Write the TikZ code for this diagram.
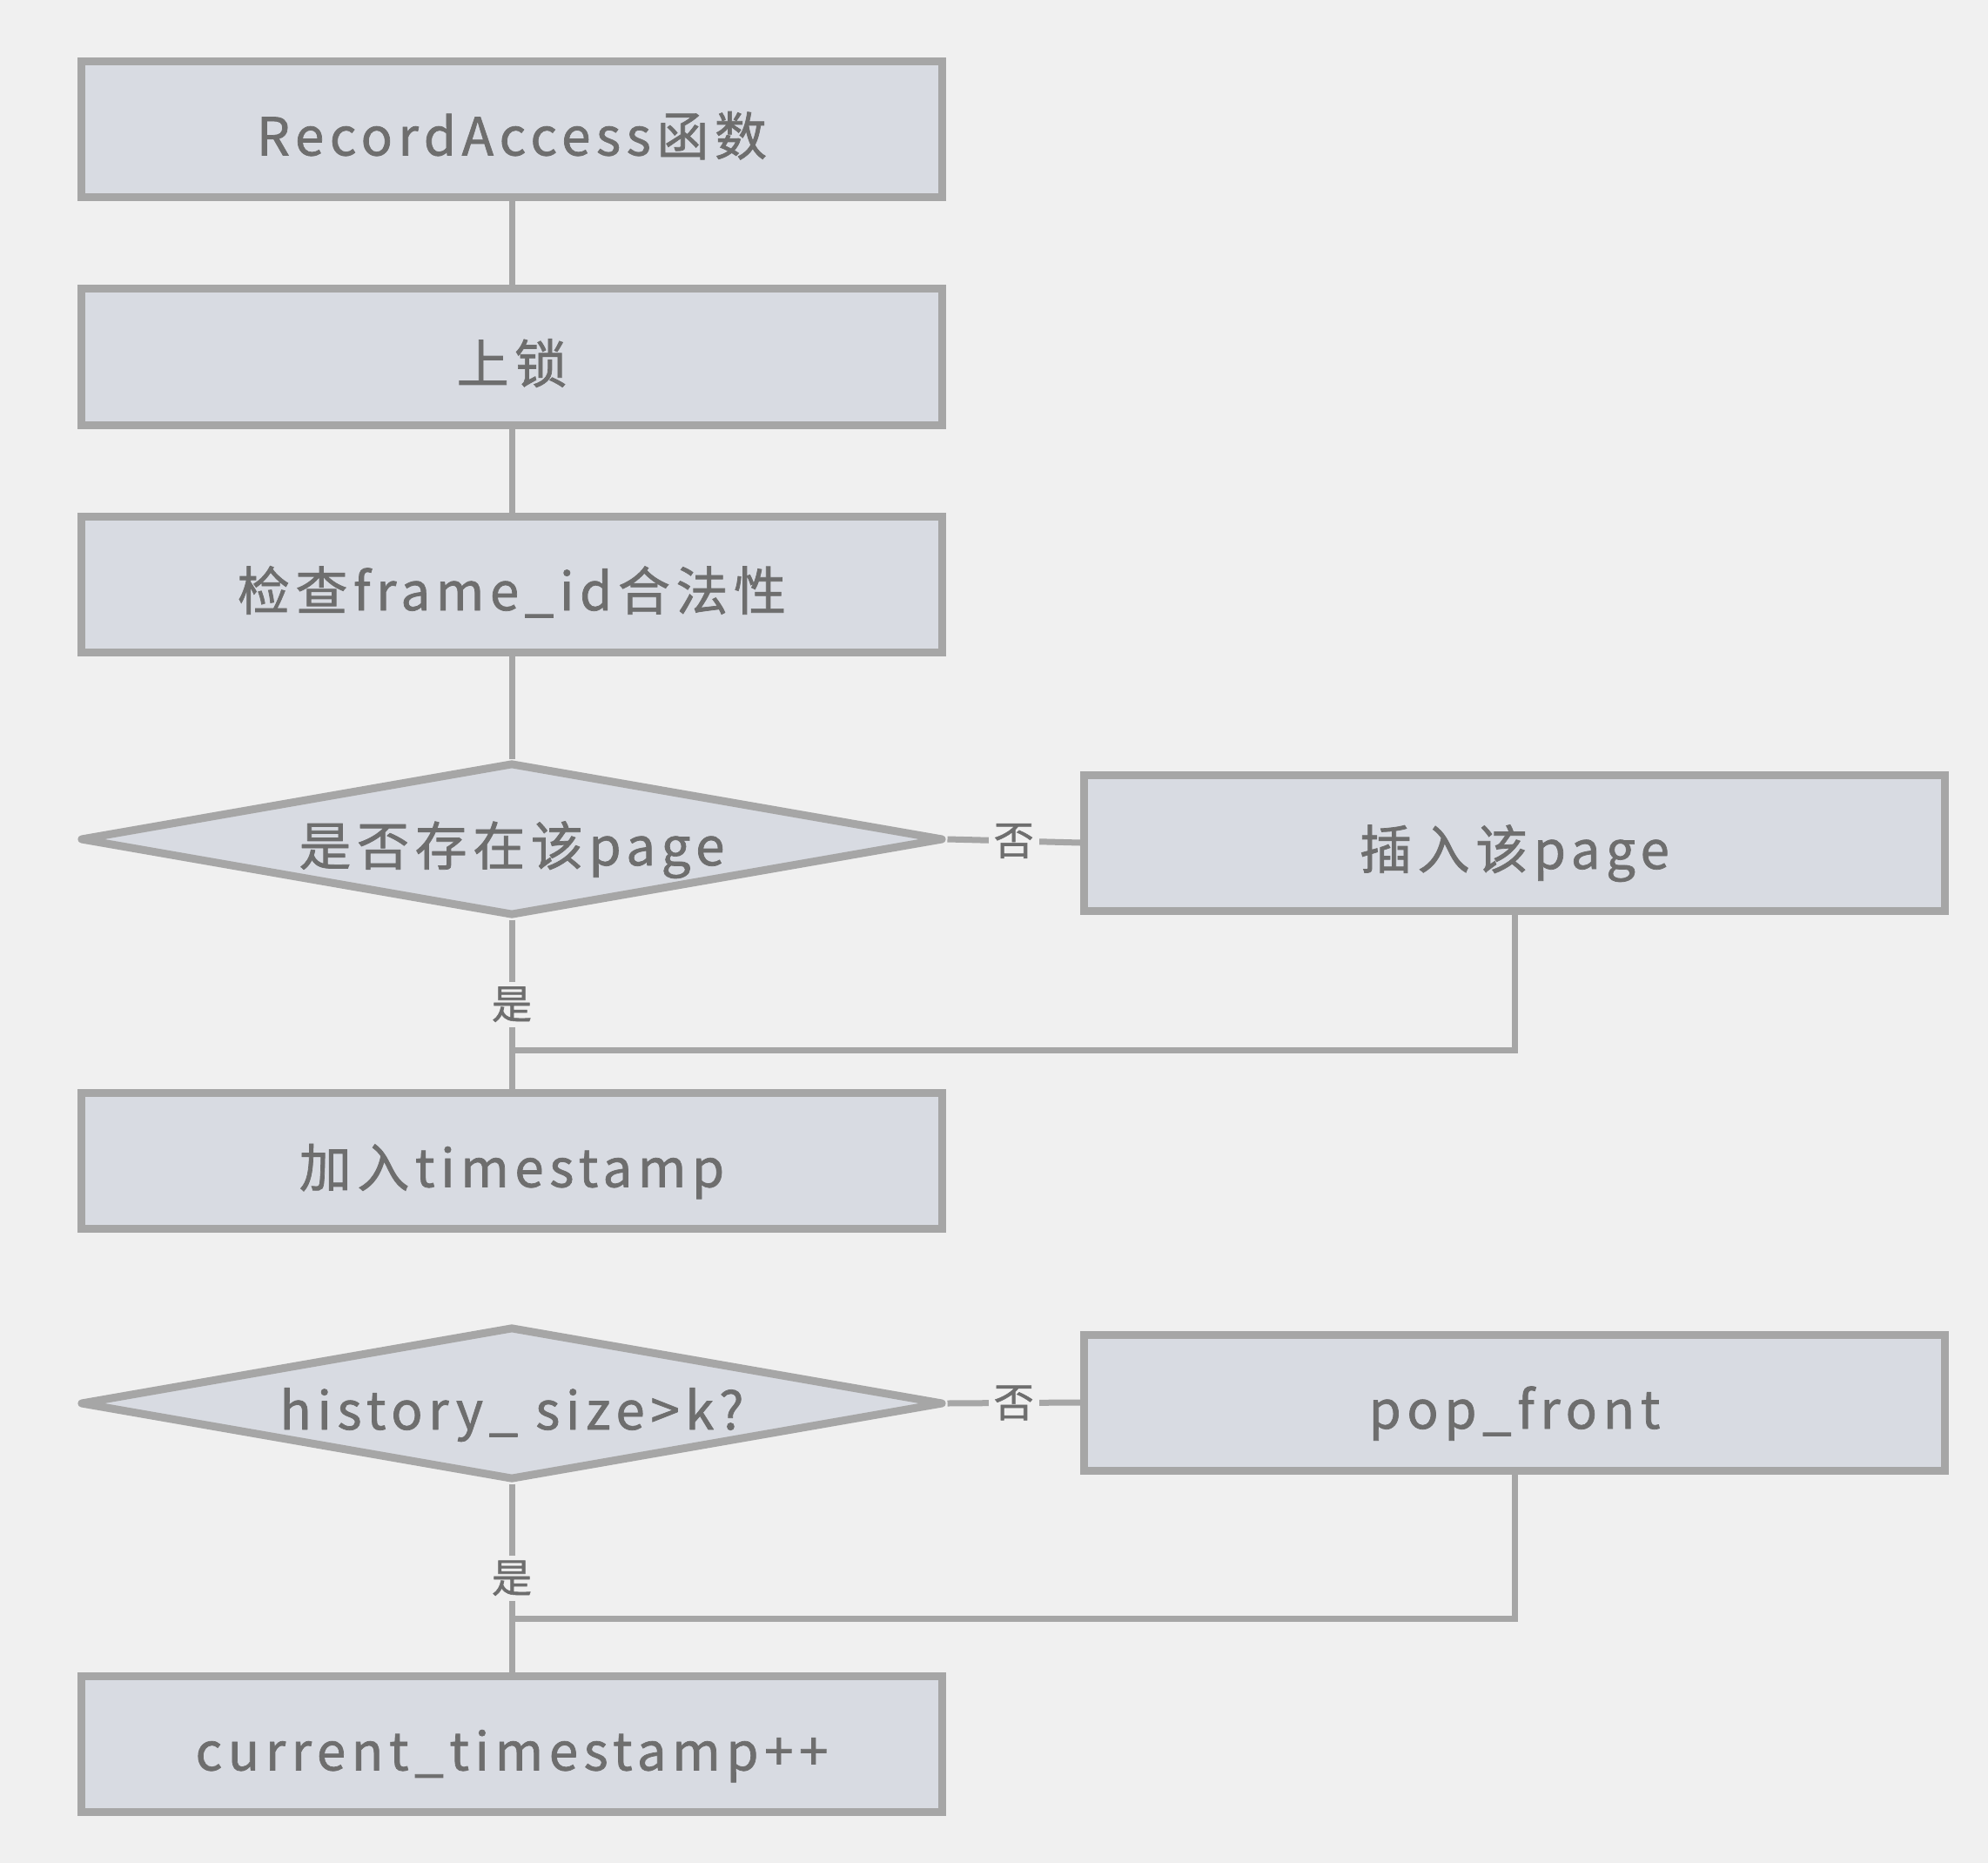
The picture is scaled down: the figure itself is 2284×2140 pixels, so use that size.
\documentclass[tikz,border=0pt]{standalone}
\usepackage{fontspec}
\setmainfont{Noto Sans CJK SC}[FakeBold=1.2]
\usetikzlibrary{shapes.geometric}

\definecolor{bgc}{HTML}{F0F0F0}
\definecolor{boxfill}{HTML}{D8DBE2}
\definecolor{boxline}{HTML}{A6A6A6}
\definecolor{txt}{HTML}{6E6E6E}

\tikzset{
  proc/.style={draw=boxline, fill=boxfill, line width=9pt, rectangle,
    minimum width=989pt, minimum height=156pt, inner sep=0pt,
    text height=66pt, text depth=6pt,
    text=txt, font=\fontsize{60}{66}\selectfont\addfontfeatures{LetterSpace=11}},
  decide/.style={proc, diamond, aspect=5.5, line join=round,
    minimum width=992pt, minimum height=176pt},
  line/.style={draw=boxline, line width=7pt},
  lbl/.style={fill=bgc, text=txt, inner sep=6pt,
    font=\fontsize{46}{50}\selectfont}
}

\begin{document}
\begin{tikzpicture}[x=1pt,y=-1pt]
\fill[bgc] (0,0) rectangle (2284,2140);
\useasboundingbox (0,0) rectangle (2284,2140);

\node[proc] (start) at (588,148.5) {RecordAccess函数};
\node[proc] (lock) at (588,410) {上锁};
\node[proc] (check) at (588,671) {检查frame\_id合法性};
\node[decide] (exist) at (588,964) {是否存在该page};
\node[proc] (insert) at (1740,968) {插入该page};
\node[proc] (addts) at (588,1333.5) {加入timestamp};

\node[decide] (size) at (588,1612) {history\_ size>k?};
\node[proc] (pop) at (1740,1611) {pop\_front};
\node[proc] (incr) at (588,2003.5) {current\_timestamp++};

\coordinate (join1) at (588,1206);
\coordinate (join2) at (588,1859);

\path[line] (start) -- (lock);
\path[line] (lock) -- (check);
\path[line] (check) -- (exist);
\path[line] (exist.east) -- node[lbl] {否} (insert.west);
\path[line] (exist.south) -- node[lbl] {是} (addts.north);
\path[line] (insert.south) |- (join1);

\path[line] (size.east) -- node[lbl] {否} (pop.west);
\path[line] (size.south) -- node[lbl] {是} (incr.north);
\path[line] (pop.south) |- (join2);

% redraw boxes over the line ends
\node[proc] at (addts) {加入timestamp};
\node[proc] at (incr) {current\_timestamp++};
\end{tikzpicture}
\end{document}
